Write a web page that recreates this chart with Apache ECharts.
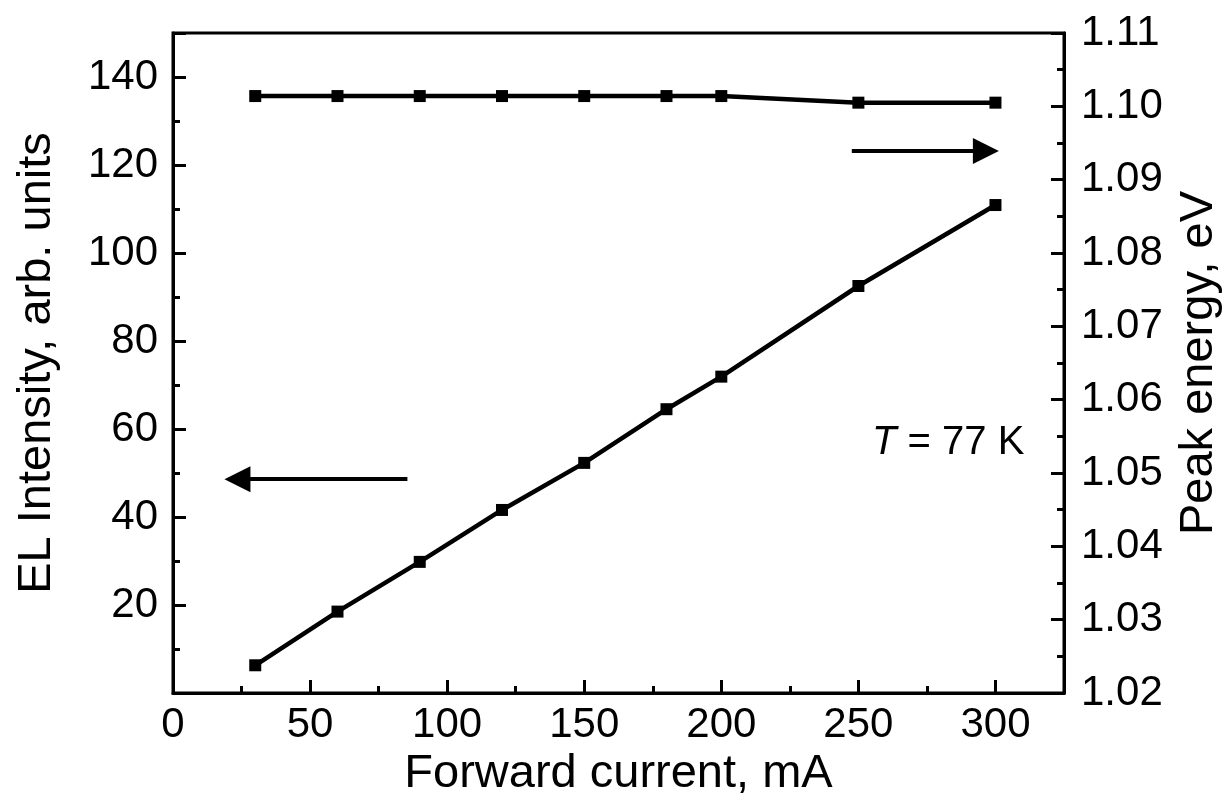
<!DOCTYPE html>
<html>
<head>
<meta charset="utf-8">
<script src="https://cdn.jsdelivr.net/npm/echarts@6/dist/echarts.min.js"></script>
<style>
    html, body { margin: 0; padding: 0; background: #fff; }
    #chart { width: 1231px; height: 805px; }
</style>
</head>
<body>
<div id="chart"></div>
<script>
// data
var current = [30, 60, 90, 120, 150, 180, 200, 250, 300];
var intensity = [6.3, 18.5, 29.8, 41.6, 52.3, 64.5, 71.9, 92.5, 110.9];
var peakEnergy = [1.1014, 1.1014, 1.1014, 1.1014, 1.1014, 1.1014, 1.1014, 1.1005, 1.1005];
// arrows, in data units of the left axis
var leftArrow = [[85.5, 48.6], [23.5, 48.6]];
var rightArrow = [[247.6, 123.2], [296.5, 123.2]];

var FONT = "'Liberation Sans', Arial, sans-serif";

var Chart = {
    pairs: function (xs, ys) {
        var out = [];
        for (var i = 0; i < xs.length; i++) {
            out.push([xs[i], ys[i]]);
        }
        return out;
    },

    arrowLine: function (pts) {
        return [{ coord: pts[0] }, { coord: pts[1] }];
    },

    init: function () {
        var myChart = echarts.init(document.getElementById('chart'));
        var tickLabel = { color: '#000', fontFamily: FONT, fontSize: 42 };
        var nameStyle = { color: '#000', fontFamily: FONT, fontSize: 47 };
        var axisLine = { show: true, lineStyle: { color: '#000', width: 3 } };
        var tick = { inside: true, length: 13, lineStyle: { color: '#000', width: 3 } };
        var minor = { show: true, splitNumber: 2, length: 7, lineStyle: { color: '#000', width: 3 } };
        var option = {
            backgroundColor: '#fff',
            animation: false,
            grid: {
                left: 173, right: 166, top: 33, bottom: 112,
                show: true, borderColor: '#000', borderWidth: 3
            },
            xAxis: {
                type: 'value',
                min: 0, max: 325, interval: 50,
                name: 'Forward current, mA',
                nameLocation: 'middle', nameGap: 57,
                nameTextStyle: nameStyle,
                axisLine: axisLine,
                axisTick: tick,
                minorTick: minor,
                splitLine: { show: false },
                axisLabel: $.extend({}, tickLabel, {
                    margin: 11,
                    formatter: function (v) { return v > 300 ? '' : v; }
                })
            },
            yAxis: [
                {
                    type: 'value',
                    min: 0, max: 150, interval: 20,
                    name: 'EL Intensity, arb. units',
                    nameLocation: 'middle', nameGap: 112,
                    nameTextStyle: nameStyle,
                    axisLine: axisLine,
                    axisTick: tick,
                    minorTick: minor,
                    splitLine: { show: false },
                    axisLabel: $.extend({}, tickLabel, {
                        margin: 15,
                        formatter: function (v) { return (v === 0 || v > 140) ? '' : v; }
                    })
                },
                {
                    type: 'value',
                    position: 'right',
                    min: 1.02, max: 1.11, interval: 0.01,
                    name: 'Peak energy, eV',
                    nameLocation: 'middle', nameGap: 112,
                    nameRotate: 90,
                    nameTextStyle: nameStyle,
                    axisLine: axisLine,
                    axisTick: tick,
                    minorTick: minor,
                    splitLine: { show: false },
                    axisLabel: $.extend({}, tickLabel, {
                        margin: 17,
                        formatter: function (v) { return v.toFixed(2); }
                    })
                }
            ],
            series: [
                {
                    type: 'line',
                    yAxisIndex: 0,
                    data: Chart.pairs(current, intensity),
                    symbol: 'rect', symbolSize: 12,
                    lineStyle: { color: '#000', width: 4.5 },
                    itemStyle: { color: '#000' },
                    markLine: {
                        silent: true,
                        symbol: ['none', 'triangle'],
                        symbolSize: 26,
                        label: { show: false },
                        lineStyle: { color: '#000', width: 4, type: 'solid' },
                        data: [Chart.arrowLine(leftArrow), Chart.arrowLine(rightArrow)]
                    }
                },
                {
                    type: 'line',
                    yAxisIndex: 1,
                    data: Chart.pairs(current, peakEnergy),
                    symbol: 'rect', symbolSize: 12,
                    lineStyle: { color: '#000', width: 4.5 },
                    itemStyle: { color: '#000' }
                }
            ],
            graphic: [
                {
                    type: 'text',
                    left: 872, top: 423,
                    style: {
                        text: '{i|T}{n| = 77 K}',
                        rich: {
                            i: { fontFamily: FONT, fontSize: 40, fontStyle: 'italic', fill: '#000' },
                            n: { fontFamily: FONT, fontSize: 40, fill: '#000' }
                        }
                    }
                }
            ]
        };
        myChart.setOption(option);
    }
};

// tiny stand-in for jQuery's extend, so the page has no extra dependency
var $ = { extend: function (target) {
    for (var i = 1; i < arguments.length; i++) {
        for (var k in arguments[i]) { target[k] = arguments[i][k]; }
    }
    return target;
} };

Chart.init();
</script>
</body>
</html>
